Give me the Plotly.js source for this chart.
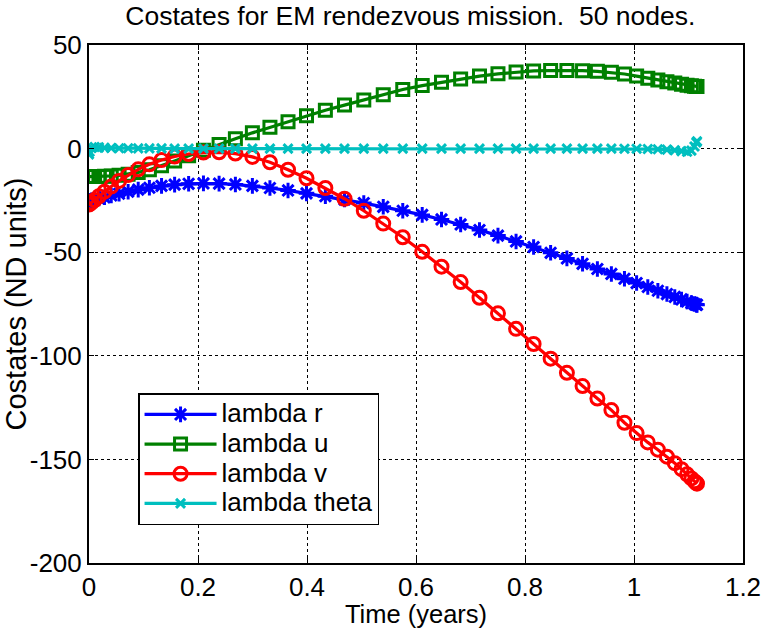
<!DOCTYPE html>
<html>
<head>
<meta charset="utf-8">
<script src="https://cdn.plot.ly/plotly-3.0.1.min.js"></script>
<style>
  html, body { margin: 0; padding: 0; background: #fff; }
  #chart { width: 767px; height: 628px; }
</style>
</head>
<body>
<div id="chart"></div>
<script>
// Node times (years) of the 50-node mesh
const timeYears = [
  0.0000, 0.0011, 0.0046, 0.0103, 0.0182, 0.0284, 0.0408, 0.0552, 0.0718, 0.0903,
  0.1108, 0.1331, 0.1571, 0.1828, 0.2100, 0.2387, 0.2686, 0.2998, 0.3320, 0.3652,
  0.3991, 0.4337, 0.4688, 0.5042, 0.5399, 0.5757, 0.6114, 0.6468, 0.6819, 0.7165,
  0.7504, 0.7836, 0.8158, 0.8470, 0.8769, 0.9056, 0.9328, 0.9585, 0.9825, 1.0048,
  1.0253, 1.0438, 1.0604, 1.0748, 1.0872, 1.0974, 1.1053, 1.1110, 1.1145, 1.1156
];

// Costate histories (ND units)
const lambdaR = [
  -25.5, -25.3, -25.0, -24.5, -24.0, -23.5, -22.6, -21.8, -20.8, -19.8,
  -18.9, -18.0, -17.4, -17.0, -16.8, -16.9, -17.3, -18.0, -19.0, -20.2,
  -21.6, -23.0, -24.6, -26.3, -28.1, -30.0, -32.0, -34.2, -36.6, -39.3,
  -42.0, -44.8, -47.5, -50.3, -53.0, -55.6, -58.1, -60.5, -62.8, -64.9,
  -66.8, -68.6, -70.2, -71.6, -72.8, -73.8, -74.5, -75.0, -75.3, -75.4
];
const lambdaU = [
  -13.5, -13.5, -13.5, -13.5, -13.5, -13.4, -13.2, -12.9, -12.4, -11.5,
  -10.2, -8.3, -6.0, -3.5, -0.8, 2.0, 4.8, 7.6, 10.3, 13.0,
  15.8, 18.5, 21.0, 23.5, 26.0, 28.5, 30.4, 32.0, 33.6, 35.0,
  36.1, 37.0, 37.5, 37.7, 37.7, 37.6, 37.3, 36.8, 36.0, 35.0,
  34.0, 33.1, 32.3, 31.6, 31.0, 30.6, 30.3, 30.1, 30.0, 30.0
];
const lambdaV = [
  -27.0, -26.7, -26.0, -24.8, -23.0, -20.8, -18.3, -15.6, -12.8, -10.0,
  -7.6, -5.5, -3.8, -2.6, -1.9, -1.8, -2.4, -4.0, -6.6, -10.2,
  -14.3, -19.0, -24.2, -30.0, -36.2, -42.8, -49.8, -57.0, -64.4, -72.0,
  -79.5, -87.0, -94.3, -101.4, -108.2, -114.6, -120.6, -126.2, -132.3, -137.3,
  -141.8, -145.3, -148.7, -151.8, -154.7, -157.2, -159.2, -160.6, -161.4, -161.7
];
const lambdaTheta = [
  -2.8, -1.5, 0.3, 0.8, 0.6, 0.4, 0.3, 0.2, 0.2, 0.1,
  0.1, 0.1, 0.0, 0.0, 0.0, 0.0, 0.0, 0.0, 0.0, 0.0,
  0.0, 0.0, 0.0, 0.0, 0.0, 0.0, 0.0, 0.0, 0.0, 0.0,
  0.0, 0.0, 0.0, 0.0, 0.0, 0.0, 0.0, 0.0, -0.1, -0.1,
  -0.2, -0.3, -0.5, -0.8, -1.2, -1.5, -1.0, 1.0, 3.0, 3.5
];

const seriesNames = ['lambda r', 'lambda u', 'lambda v', 'lambda theta'];

const xTickVals = [0, 0.2, 0.4, 0.6, 0.8, 1, 1.2];
const xTickText = ['0', '0.2', '0.4', '0.6', '0.8', '1', '1.2'];
const yTickVals = [-200, -150, -100, -50, 0, 50];
const yTickText = ['-200', '-150', '-100', '-50', '0', '50'];

const FONT = 'Liberation Sans, Arial, Helvetica, sans-serif';

// Legend labels are set a little larger than the legend's row font,
// which keeps the rows tightly packed.
function legendLabel(name) {
  return '<span style="font-size:26px">' + name + '</span>';
}

function trace(name, y, color, symbol, size) {
  return {
    type: 'scatter',
    mode: 'lines+markers',
    name: legendLabel(name),
    x: timeYears,
    y: y,
    line: { color: color, width: 3.2 },
    marker: { symbol: symbol, size: size, color: color, line: { color: color, width: 3 } }
  };
}

const data = [
  trace(seriesNames[0], lambdaR, '#0000ff', 'asterisk-open', 13),
  trace(seriesNames[1], lambdaU, '#008000', 'square-open', 12),
  trace(seriesNames[2], lambdaV, '#ff0000', 'circle-open', 13),
  trace(seriesNames[3], lambdaTheta, '#00bfbf', 'x-thin-open', 9)
];

const axisCommon = {
  showline: true, linecolor: '#000', linewidth: 2, mirror: 'ticks',
  ticks: 'inside', ticklen: 5, tickcolor: '#000', tickwidth: 1,
  showgrid: true, gridcolor: '#000', gridwidth: 1, griddash: 'dot',
  zeroline: false,
  tickfont: { family: FONT, size: 26, color: '#000' }
};

const layout = {
  width: 767, height: 628,
  paper_bgcolor: '#fff', plot_bgcolor: '#fff',
  margin: { l: 89, r: 24, t: 45, b: 65 },
  font: { family: FONT, color: '#000' },
  title: {
    text: 'Costates for EM rendezvous mission.  50 nodes.',
    font: { family: FONT, size: 26.5, color: '#000' },
    x: 0.535, xanchor: 'center', y: 0.975, yanchor: 'middle'
  },
  xaxis: Object.assign({}, axisCommon, {
    range: [0, 1.2], tickvals: xTickVals, ticktext: xTickText,
    title: { text: 'Time (years)', font: { family: FONT, size: 25.5, color: '#000' }, standoff: 0 }
  }),
  yaxis: Object.assign({}, axisCommon, {
    range: [-200, 50], tickvals: yTickVals, ticktext: yTickText,
    title: { text: 'Costates (ND units)', font: { family: FONT, size: 29, color: '#000' }, standoff: 0 }
  }),
  showlegend: true,
  legend: {
    x: 0.075, y: 0.328, xanchor: 'left', yanchor: 'top',
    bgcolor: '#fff', bordercolor: '#000', borderwidth: 1.5,
    font: { family: FONT, size: 20.5, color: '#000' },
    itemwidth: 72, tracegroupgap: 0
  }
};

Plotly.newPlot('chart', data, layout, { displayModeBar: false, staticPlot: true });
</script>
</body>
</html>
